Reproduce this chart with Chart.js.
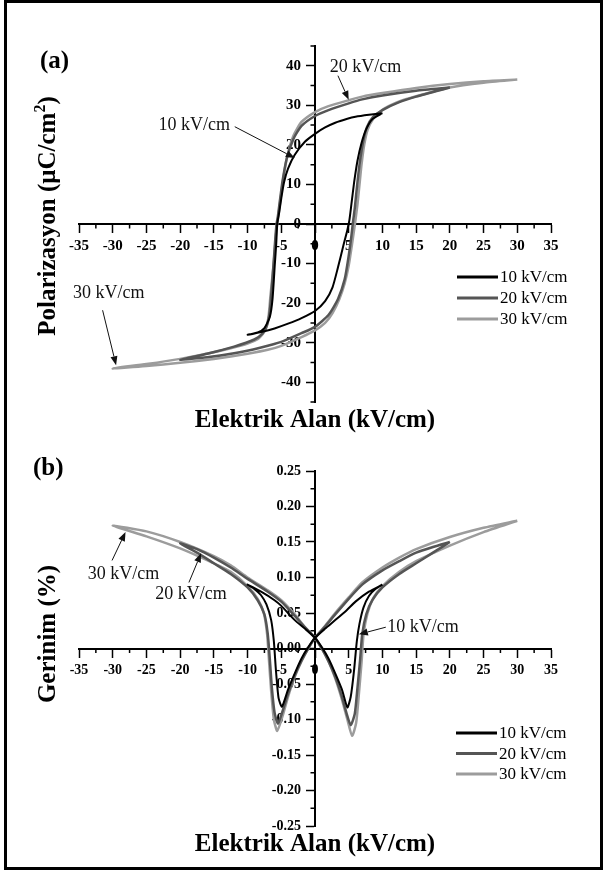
<!DOCTYPE html>
<html>
<head>
<meta charset="utf-8">
<script src="https://cdn.jsdelivr.net/npm/chart.js@4.4.1/dist/chart.umd.min.js"></script>
<style>
  body { margin: 0; background: #fff; }
  #page { position: relative; width: 606px; height: 872px; }
  canvas { position: absolute; left: 0; }
  #frame { position: absolute; left: 4px; top: 0; width: 593px; height: 864px; border: 3px solid #000; pointer-events: none; }
</style>
</head>
<body>
<div id="page">
  <canvas id="chartA" width="606" height="436" style="top:0"></canvas>
  <canvas id="chartB" width="606" height="436" style="top:436px"></canvas>
  <div id="frame"></div>
</div>
<script>
// ---- data ----
const seriesLabels = ['10 kV/cm', '20 kV/cm', '30 kV/cm'];
const xTicks = [-35, -30, -25, -20, -15, -10, -5, 0, 5, 10, 15, 20, 25, 30, 35];
const yTicksA = [-40, -30, -20, -10, 0, 10, 20, 30, 40];
const yTicksB = [-0.25, -0.20, -0.15, -0.10, -0.05, 0, 0.05, 0.10, 0.15, 0.20, 0.25];

// (a) polarization loops
const E10a = [10, 8, 6, 4.8, 3, 1.5, 0, -1.5, -3, -4, -4.6, -5, -5.3, -5.6, -5.75, -5.95, -6.3, -6.7, -7.5, -8.5, -10, -8, -6, -4, -2, 0, 1.5, 2.6, 3.4, 4.2, 4.8, 5.1, 5.4, 5.8, 6.3, 6.9, 7.6, 8.5, 10];
const P10a = [28, 27.6, 27.1, 26.6, 25.6, 24.4, 22.8, 20.8, 17.5, 14, 10.5, 6.5, 3, 0, -5, -10, -19, -23.5, -26.3, -27.4, -28, -27.3, -26.4, -25.2, -23.8, -22, -19.5, -16, -11, -5.5, -1.5, 1, 5, 10.5, 16, 20.5, 24, 26.5, 28];
const E20a = [20, 15, 10, 7, 5, 2, 0, -2, -3.2, -4.2, -4.8, -5.2, -5.5, -5.7, -5.9, -6.1, -6.4, -6.7, -7.1, -7.8, -9, -12, -16, -20, -16, -12, -8, -5, -2, 0, 2, 3.4, 4.4, 5, 5.4, 5.6, 5.9, 6.2, 6.6, 7.1, 7.7, 8.6, 10, 12.5, 15, 20];
const P20a = [34.5, 33.7, 32.5, 31.5, 30.5, 28.8, 27.3, 24.8, 21.5, 16.5, 11, 6, 2, 0, -4, -9, -16, -22, -25.5, -27.7, -29.2, -31, -32.8, -34.3, -33.7, -32.7, -31.2, -29.8, -27.6, -26, -23, -19, -14, -8, -3, 0, 4, 9, 15, 20.5, 24.5, 27, 28.8, 30.8, 32.2, 34.5];
const E30a = [30, 25, 20, 15, 10, 7, 5, 2, 0, -2, -3.2, -4.1, -4.7, -5.2, -5.6, -5.8, -6, -6.3, -6.6, -6.9, -7.4, -8.4, -10, -12.5, -15, -20, -25, -30, -25, -20, -15, -12.5, -10, -7, -5, -2, 0, 1.5, 2.6, 3.6, 4.4, 5, 5.5, 5.8, 6, 6.3, 6.6, 6.9, 7.3, 7.8, 8.6, 10, 12.5, 15, 20, 25, 30];
const P30a = [36.5, 36.1, 35.4, 34.4, 33.1, 32.2, 31.3, 29.8, 28.3, 25.8, 22.3, 17.2, 11.5, 5, 0, -3, -7.5, -13, -18, -23.5, -27, -29, -30.2, -31.4, -32.4, -34.1, -35.4, -36.5, -35.9, -35.1, -34.1, -33.5, -32.8, -31.8, -30.8, -28.6, -26.9, -25, -22.5, -19, -15, -10.5, -5, -1.5, 1, 5, 10, 15, 20, 23.8, 26.5, 28.9, 31, 32.3, 34.5, 35.7, 36.5];

// (b) strain butterfly loops
const E10b = [10, 8, 6, 4.7, 3, 1.5, 0, -1, -2, -3, -4, -4.9, -5.4, -5.8, -6.1, -6.5, -7.2, -8, -9, -10, -8, -6, -5, -3, -1.5, 0, 1, 2, 3, 4, 4.8, 5.3, 5.8, 6.2, 6.6, 7.2, 8, 9, 10];
const S10b = [0.090, 0.080, 0.066, 0.054, 0.040, 0.028, 0.015, 0.002, -0.014, -0.035, -0.058, -0.082, -0.070, -0.030, 0.010, 0.040, 0.062, 0.075, 0.084, 0.090, 0.080, 0.068, 0.060, 0.040, 0.028, 0.015, 0.002, -0.014, -0.035, -0.058, -0.083, -0.068, -0.030, 0.010, 0.035, 0.058, 0.074, 0.084, 0.090];
const E20b = [20, 17.5, 15, 12.5, 10, 7, 5, 3, 1.5, 0, -1, -2, -3, -4, -4.8, -5.5, -6, -6.4, -6.7, -7, -7.5, -8.5, -10, -12.5, -15, -17.5, -20, -17.5, -15, -12.5, -10, -7, -5, -3, -1.5, 0, 1, 2, 3, 4, 4.7, 5.3, 5.9, 6.3, 6.7, 7, 7.6, 8.5, 10, 12.5, 15, 17.5, 20];
const S20b = [0.150, 0.143, 0.135, 0.123, 0.110, 0.090, 0.070, 0.048, 0.031, 0.015, 0.000, -0.017, -0.038, -0.064, -0.088, -0.106, -0.090, -0.055, -0.015, 0.020, 0.048, 0.068, 0.086, 0.105, 0.120, 0.135, 0.148, 0.140, 0.128, 0.114, 0.098, 0.080, 0.066, 0.046, 0.030, 0.015, 0.000, -0.018, -0.040, -0.068, -0.092, -0.108, -0.092, -0.055, -0.015, 0.020, 0.048, 0.068, 0.086, 0.105, 0.120, 0.135, 0.150];
const E30b = [30, 25, 20, 15, 12.5, 10, 7, 5, 3, 1.5, 0, -1, -2, -3, -4, -4.8, -5.6, -6.1, -6.5, -6.8, -7.1, -7.6, -8.5, -10, -12.5, -15, -20, -25, -30, -25, -20, -15, -12.5, -10, -7, -5, -3, -1.5, 0, 1, 2, 3, 4, 4.8, 5.5, 6.1, 6.5, 6.9, 7.2, 7.8, 8.7, 10, 12.5, 15, 20, 25, 30];
const S30b = [0.180, 0.170, 0.157, 0.140, 0.128, 0.114, 0.093, 0.072, 0.050, 0.032, 0.015, 0.000, -0.018, -0.040, -0.068, -0.095, -0.116, -0.100, -0.060, -0.020, 0.020, 0.050, 0.070, 0.088, 0.108, 0.120, 0.141, 0.158, 0.173, 0.165, 0.150, 0.130, 0.117, 0.100, 0.082, 0.068, 0.048, 0.030, 0.015, 0.000, -0.018, -0.042, -0.072, -0.100, -0.123, -0.105, -0.065, -0.020, 0.020, 0.050, 0.072, 0.088, 0.108, 0.123, 0.145, 0.164, 0.180];

// ---- styling ----
const FONT = "'Liberation Serif', 'Times New Roman', serif";
const lineColors = ['#000000', '#555555', '#9c9c9c'];
const lineWidths = [2, 2.5, 2.5];

function pts(xs, ys) {
    return xs.map((x, i) => ({ x: x, y: ys[i] }));
}

function arrow(ctx, x1, y1, x2, y2) {
    const a = Math.atan2(y2 - y1, x2 - x1);
    const len = 9, half = 3.5;
    const bx = x2 - len * Math.cos(a), by = y2 - len * Math.sin(a);
    ctx.beginPath();
    ctx.moveTo(x1, y1);
    ctx.lineTo(bx, by);
    ctx.stroke();
    ctx.beginPath();
    ctx.moveTo(x2, y2);
    ctx.lineTo(bx + half * Math.sin(a), by - half * Math.cos(a));
    ctx.lineTo(bx - half * Math.sin(a), by + half * Math.cos(a));
    ctx.closePath();
    ctx.fill();
}

// minor ticks, titles, legend and the arrow notes
const decor = {
    id: 'decor',
    afterDraw(chart, args, opts) {
        const ctx = chart.ctx;
        const xs = chart.scales.x, ys = chart.scales.y;
        const area = chart.chartArea;
        const x0 = xs.getPixelForValue(0), y0 = ys.getPixelForValue(0);
        ctx.save();
        ctx.strokeStyle = '#000';
        ctx.fillStyle = '#000';

        // minor ticks
        ctx.lineWidth = 1.5;
        ctx.beginPath();
        for (let v = xs.min + opts.minorStepX; v < xs.max; v += 2 * opts.minorStepX) {
            const px = xs.getPixelForValue(v);
            ctx.moveTo(px, y0);
            ctx.lineTo(px, y0 + 4.5);
        }
        for (let k = 0; k <= opts.minorCountY; k++) {
            const v = opts.minorStartY + k * 2 * opts.minorStepY;
            const py = ys.getPixelForValue(v);
            ctx.moveTo(x0, py);
            ctx.lineTo(x0 - 4.5, py);
        }
        ctx.stroke();

        // panel tag
        ctx.font = 'bold 25px ' + FONT;
        ctx.textBaseline = 'middle';
        ctx.textAlign = 'left';
        ctx.fillText(opts.tag, opts.tagX, opts.tagY);

        // x title
        ctx.textAlign = 'center';
        ctx.fillText('Elektrik Alan (kV/cm)', x0, area.bottom + opts.xTitleGap);

        // y title (rotated, with optional superscript part)
        ctx.save();
        ctx.translate(opts.yTitleX, opts.yTitleY);
        ctx.rotate(-Math.PI / 2);
        ctx.textAlign = 'left';
        let total = 0;
        opts.yTitle.forEach(p => {
            ctx.font = (p.sup ? 'bold 16px ' : 'bold 25px ') + FONT;
            p.w = ctx.measureText(p.t).width;
            total += p.w;
        });
        let cx = -total / 2;
        opts.yTitle.forEach(p => {
            ctx.font = (p.sup ? 'bold 16px ' : 'bold 25px ') + FONT;
            ctx.fillText(p.t, cx, p.sup ? -8 : 0);
            cx += p.w;
        });
        ctx.restore();

        // legend
        ctx.font = '17px ' + FONT;
        ctx.textAlign = 'left';
        chart.data.datasets.forEach((ds, i) => {
            const y = opts.legendY + i * opts.legendGap;
            ctx.strokeStyle = ds.borderColor;
            ctx.lineWidth = 3;
            ctx.beginPath();
            ctx.moveTo(opts.legendX, y);
            ctx.lineTo(opts.legendX + 41, y);
            ctx.stroke();
            ctx.fillStyle = '#000';
            ctx.fillText(ds.label, opts.legendX + 43, y + 1);
        });

        // notes with arrows
        ctx.strokeStyle = '#111';
        ctx.fillStyle = '#111';
        ctx.lineWidth = 1;
        ctx.font = '18px ' + FONT;
        opts.notes.forEach(n => {
            ctx.textAlign = n.align;
            ctx.fillText(n.text, xs.getPixelForValue(n.at[0]), ys.getPixelForValue(n.at[1]));
            arrow(ctx,
                xs.getPixelForValue(n.from[0]), ys.getPixelForValue(n.from[1]),
                xs.getPixelForValue(n.to[0]), ys.getPixelForValue(n.to[1]));
        });
        ctx.restore();
    }
};

function axisOpts(ticks, size, cb) {
    return {
        ticks: {
            font: { family: FONT, size: size, weight: 'bold' },
            color: '#000',
            padding: 5,
            maxRotation: 0,
            autoSkip: false,
            callback: cb
        },
        afterBuildTicks: scale => { scale.ticks = ticks.map(v => ({ value: v })); },
        grid: { drawOnChartArea: false, drawTicks: true, tickLength: 8, tickColor: '#000', tickWidth: 1.5 },
        border: { display: true, color: '#000', width: 2 }
    };
}

function makeChart(id, loops, yMin, yMax, yTicks, tickSize, yCb, padding, deco) {
    const xAxis = axisOpts(xTicks, tickSize, v => v);
    const yAxis = axisOpts(yTicks, tickSize, yCb);
    yAxis.ticks.padding = 6;
    return new Chart(document.getElementById(id), {
        type: 'scatter',
        data: {
            datasets: loops.map((d, i) => ({
                label: seriesLabels[i],
                data: d,
                showLine: true,
                borderColor: lineColors[i],
                borderWidth: lineWidths[i],
                pointRadius: 0,
                tension: 0.2,
                fill: false
            }))
        },
        options: {
            responsive: false,
            animation: false,
            devicePixelRatio: 1,
            layout: { padding: padding },
            plugins: { legend: { display: false }, tooltip: { enabled: false }, decor: deco },
            scales: {
                x: Object.assign({ type: 'linear', min: -35, max: 35, position: { y: 0 } }, xAxis),
                // x range is symmetric, so the centre of the plot is E = 0
                y: Object.assign({ type: 'linear', min: yMin, max: yMax, position: 'center' }, yAxis)
            }
        },
        plugins: [decor]
    });
}

makeChart('chartA',
    [pts(E10a, P10a), pts(E20a, P20a), pts(E30a, P30a)],
    -45, 45, yTicksA, 15, v => v,
    { left: 79, right: 55, top: 46, bottom: 34 },
    {
        minorStepX: 2.5, minorStartY: -45, minorStepY: 5, minorCountY: 9,
        tag: '(a)', tagX: 40, tagY: 62,
        xTitleGap: 19,
        yTitleX: 49, yTitleY: 216,
        yTitle: [{ t: 'Polarizasyon (\u03bcC/cm' }, { t: '2', sup: true }, { t: ')' }],
        legendX: 457, legendY: 277, legendGap: 21,
        notes: [
            { text: '20 kV/cm', at: [2.2, 39.7], align: 'left', from: [3.4, 37.5], to: [5.0, 31.4] },
            { text: '10 kV/cm', at: [-12.6, 25], align: 'right', from: [-11.9, 24.6], to: [-3.0, 16.7] },
            { text: '30 kV/cm', at: [-30.6, -17.5], align: 'center', from: [-31.5, -21.8], to: [-29.5, -35.7] }
        ]
    });

makeChart('chartB',
    [pts(E10b, S10b), pts(E20b, S20b), pts(E30b, S30b)],
    -0.25, 0.25, yTicksB, 14, v => v.toFixed(2),
    { left: 79, right: 55, top: 35, bottom: 46 },
    {
        minorStepX: 2.5, minorStartY: -0.225, minorStepY: 0.025, minorCountY: 9,
        tag: '(b)', tagX: 33, tagY: 33,
        xTitleGap: 19,
        yTitleX: 49, yTitleY: 198,
        yTitle: [{ t: 'Gerinim (%)' }],
        legendX: 456, legendY: 297, legendGap: 20.5,
        notes: [
            { text: '30 kV/cm', at: [-28.4, 0.104], align: 'center', from: [-30.1, 0.124], to: [-28.1, 0.164] },
            { text: '20 kV/cm', at: [-18.4, 0.076], align: 'center', from: [-18.7, 0.093], to: [-16.9, 0.134] },
            { text: '10 kV/cm', at: [10.7, 0.030], align: 'left', from: [10.5, 0.030], to: [6.5, 0.020] }
        ]
    });
</script>
</body>
</html>
